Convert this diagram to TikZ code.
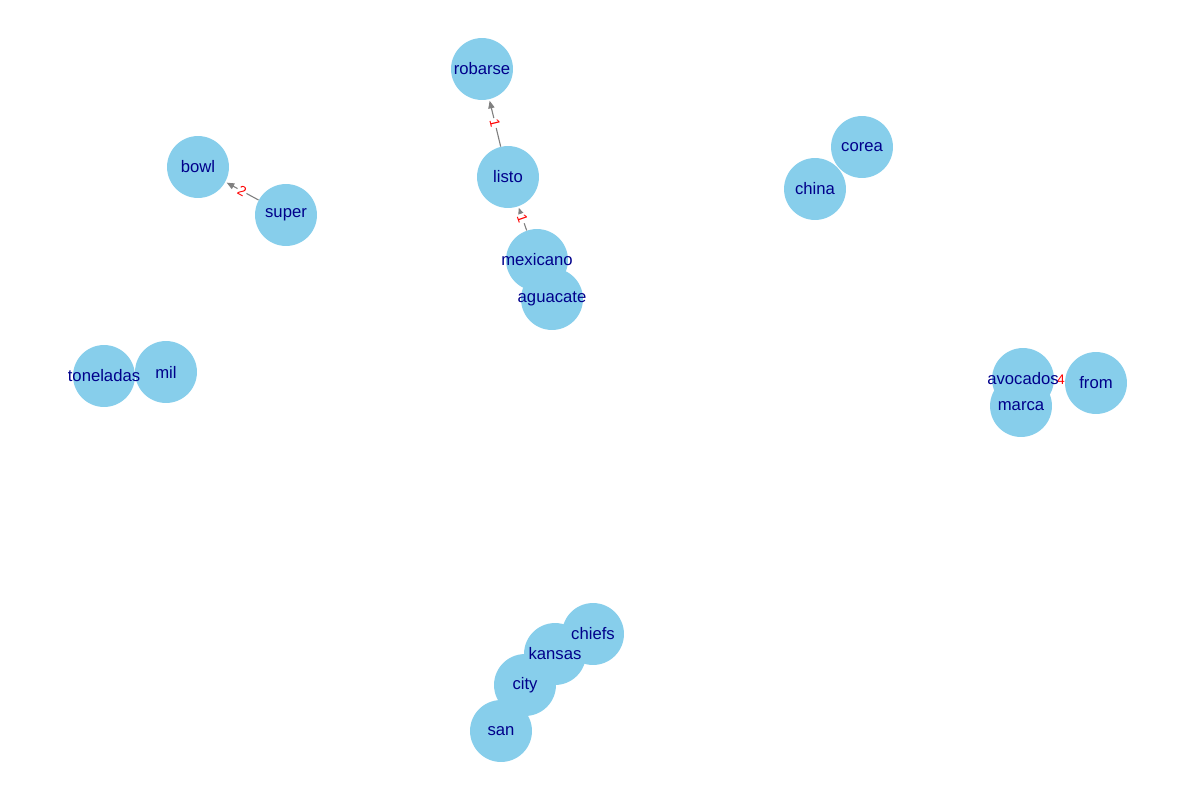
\documentclass[tikz,border=0pt]{standalone}
\usepackage{fontspec}
\setmainfont{Liberation Sans}
\usetikzlibrary{arrows.meta}
\definecolor{skyblue}{HTML}{87CEEB}
\definecolor{darkblue}{RGB}{0,0,139}
\begin{document}
\begin{tikzpicture}[x=0.72pt,y=-0.72pt,
  wtext/.style={text=darkblue,font=\fontsize{12}{14}\selectfont,inner sep=0pt},
  wnode/.style={circle,fill=skyblue,minimum size=44.6pt,inner sep=0pt},
  wedge/.style={draw=gray,line width=0.8pt,-{Triangle[length=5.5pt,width=4.5pt]},shorten >=1pt},
  wlab/.style={fill=white,text=red,inner sep=0.8pt,font=\fontsize{10}{12}\selectfont,sloped}]
\useasboundingbox (0,0) rectangle (1200,800);
% circles
\node[wnode] (robarse) at (482,69) {};
\node[wnode] (listo) at (508,177) {};
\node[wnode] (bowl) at (198,167) {};
\node[wnode] (super) at (286,215) {};
\node[wnode] (corea) at (862,147) {};
\node[wnode] (china) at (815,189) {};
\node[wnode] (aguacate) at (552,299) {};
\node[wnode] (mexicano) at (537,260) {};
\node[wnode] (mil) at (166,372) {};
\node[wnode] (toneladas) at (104,376) {};
\node[wnode] (from) at (1096,383) {};
\node[wnode] (marca) at (1021,406) {};
\node[wnode] (avocados) at (1023,379) {};
\node[wnode] (chiefs) at (593,634) {};
\node[wnode] (kansas) at (555,654) {};
\node[wnode] (city) at (525,685) {};
\node[wnode] (san) at (501,731) {};
% edges
\draw[wedge] (listo) -- node[wlab] {1} (robarse);
\draw[wedge] (mexicano) -- node[wlab] {1} (listo);
\draw[wedge] (super) -- node[wlab] {2} (bowl);
\node[text=red,inner sep=0pt,font=\fontsize{10}{12}\selectfont] (lab4) at (1061,380) {4};
% texts
\node[wtext] at (robarse) (robarseT) {robarse};
\node[wtext] at (listo) (listoT) {listo};
\node[wtext] at (bowl) (bowlT) {bowl};
\node[wtext] at (super) (superT) {super};
\node[wtext] at (corea) (coreaT) {corea};
\node[wtext] at (china) (chinaT) {china};
\node[wtext] at (aguacate) (aguacateT) {aguacate};
\node[wtext] at (mexicano) (mexicanoT) {mexicano};
\node[wtext] at (mil) (milT) {mil};
\node[wtext] at (toneladas) (toneladasT) {toneladas};
\node[wtext] at (from) (fromT) {from};
\node[wtext] at (marca) (marcaT) {marca};
\node[wtext] at (avocados) (avocadosT) {avocados};
\node[wtext] at (chiefs) (chiefsT) {chiefs};
\node[wtext] at (kansas) (kansasT) {kansas};
\node[wtext] at (city) (cityT) {city};
\node[wtext] at (san) (sanT) {san};
\end{tikzpicture}
\end{document}
